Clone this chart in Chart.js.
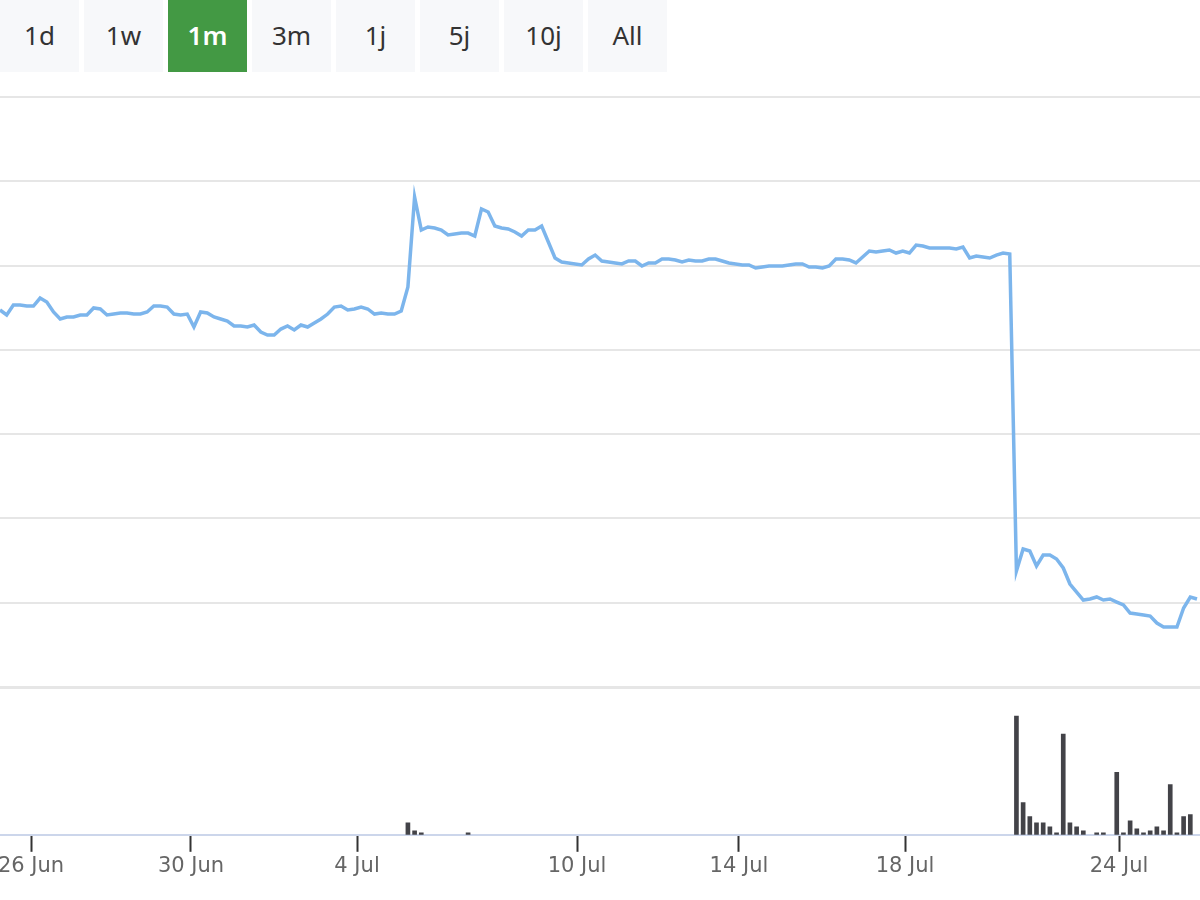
<!DOCTYPE html>
<html lang="de">
<head>
    <meta charset="UTF-8">
    <title>Kursverlauf 1m</title>
    <script src="https://cdn.jsdelivr.net/npm/chart.js"></script>
    <style>
        body { margin: 0; background: #fff; font-family: "DejaVu Sans", sans-serif; }
        #page { position: relative; width: 1200px; height: 900px; overflow: hidden; }
        #ranges { position: absolute; left: 0; top: 0; height: 72px; }
        .range { position: absolute; top: 0; width: 79px; height: 72px; line-height: 70px; text-align: center;
                 background: #f7f8fa; color: #333; font-family: "Noto Sans", sans-serif; font-size: 26px; }
        .range.active { background: #439944; color: #fff; font-weight: 600; }
        #priceChart { position: absolute; left: 0; top: 88px; }
        #volumeChart { position: absolute; left: 0; top: 690px; }
    </style>
</head>
<body>
<div id="page">
    <div id="ranges"></div>
    <canvas id="priceChart" width="1200" height="602"></canvas>
    <canvas id="volumeChart" width="1200" height="191"></canvas>
</div>

<script>
// range buttons
const rangeButtons = ["1d", "1w", "1m", "3m", "1j", "5j", "10j", "All"];
const activeRange = "1m";

// closing price per interval, ~6 intervals a day
const closePrices = [
    44.73, 44.14, 45.32, 45.32, 45.20, 45.20, 46.15, 45.68, 44.49, 43.66,
    43.90, 43.90, 44.14, 44.14, 44.97, 44.85, 44.14, 44.25, 44.37, 44.37,
    44.25, 44.25, 44.49, 45.20, 45.20, 45.08, 44.25, 44.14, 44.25, 42.71,
    44.49, 44.37, 43.90, 43.66, 43.42, 42.83, 42.83, 42.71, 42.95, 42.12,
    41.76, 41.76, 42.47, 42.83, 42.36, 42.95, 42.71, 43.19, 43.66, 44.25,
    45.08, 45.20, 44.73, 44.85, 45.08, 44.85, 44.25, 44.37, 44.25, 44.25,
    44.61, 47.46, 58.14, 54.22, 54.58, 54.46, 54.22, 53.63, 53.75, 53.86,
    53.86, 53.51, 56.71, 56.36, 54.69, 54.46, 54.34, 53.98, 53.51, 54.22,
    54.22, 54.69, 52.80, 50.90, 50.42, 50.31, 50.19, 50.07, 50.78, 51.25,
    50.54, 50.42, 50.31, 50.19, 50.54, 50.54, 49.95, 50.31, 50.31, 50.78,
    50.78, 50.66, 50.42, 50.66, 50.54, 50.54, 50.78, 50.78, 50.54, 50.31,
    50.19, 50.07, 50.07, 49.71, 49.83, 49.95, 49.95, 49.95, 50.07, 50.19,
    50.19, 49.83, 49.83, 49.71, 49.95, 50.78, 50.78, 50.66, 50.31, 51.02,
    51.73, 51.61, 51.73, 51.85, 51.49, 51.73, 51.49, 52.44, 52.32, 52.08,
    52.08, 52.08, 52.08, 51.97, 52.20, 50.90, 51.14, 51.02, 50.90, 51.25,
    51.49, 51.37, 13.76, 16.37, 16.14, 14.36, 15.66, 15.66, 15.19, 14.12,
    12.22, 11.27, 10.32, 10.44, 10.68, 10.32, 10.44, 10.08, 9.73, 8.78,
    8.66, 8.54, 8.42, 7.59, 7.12, 7.12, 7.12, 9.37, 10.68, 10.44
];

// traded volume, only intervals with trades
const volIdx = [61, 62, 63, 70, 152, 153, 154, 155, 156, 157, 158, 159, 160, 161, 162,
                164, 165, 167, 168, 169, 170, 171, 172, 173, 174, 175, 176, 177, 178];
const volAmt = [10200, 3400, 1700, 1700, 100300, 27200, 15300, 10200, 10200, 6800, 1700, 85000, 10200, 6800, 3400,
                1700, 1700, 52700, 1700, 11900, 5100, 1700, 3400, 6800, 3400, 42500, 1700, 15300, 17000];

// date ticks (position in intervals)
const tickPos = [4.64, 28.56, 53.39, 86.29, 110.51, 135.34, 167.34];
const tickLabels = ["26 Jun", "30 Jun", "4 Jul", "10 Jul", "14 Jul", "18 Jul", "24 Jul"];

const xMax = 179.45;

window.onload = function() {
    const box = document.getElementById("ranges");
    rangeButtons.forEach((r, i) => {
        const b = document.createElement("div");
        b.className = "range" + (r === activeRange ? " active" : "");
        b.style.left = (i * 84) + "px";
        b.textContent = r;
        box.appendChild(b);
    });

    new Chart(document.getElementById("priceChart"), {
        type: "line",
        data: {
            datasets: [{
                data: closePrices.map((p, i) => ({ x: i, y: p })),
                borderColor: "#7cb5ec",
                borderWidth: 3.5,
                pointRadius: 0,
                tension: 0
            }]
        },
        options: {
            responsive: false,
            animation: false,
            layout: { padding: { top: 9, bottom: 3, left: 0, right: 0 } },
            plugins: { legend: { display: false }, tooltip: { enabled: false } },
            scales: {
                x: { type: "linear", min: 0, max: xMax, display: false },
                y: {
                    min: 0, max: 70,
                    ticks: { display: false, stepSize: 10 },
                    border: { display: false },
                    grid: {
                        drawTicks: false,
                        color: "#e6e6e6",
                        lineWidth: ctx => ctx.tick && ctx.tick.value === 0 ? 3 : 2
                    }
                }
            }
        }
    });

    new Chart(document.getElementById("volumeChart"), {
        type: "bar",
        data: {
            datasets: [{
                data: volIdx.map((x, k) => ({ x: x, y: volAmt[k] })),
                backgroundColor: "#434348",
                barThickness: 4,
                borderWidth: 0
            }]
        },
        options: {
            responsive: false,
            animation: false,
            layout: { padding: { top: 10, bottom: 0, left: 0, right: 0 } },
            plugins: { legend: { display: false }, tooltip: { enabled: false } },
            scales: {
                x: {
                    type: "linear", min: 0, max: xMax, offset: false,
                    afterBuildTicks: s => { s.ticks = tickPos.map(v => ({ value: v })); },
                    afterFit: s => { s.paddingLeft = 0; s.paddingRight = 0; },
                    border: { color: "#ccd6eb", width: 2 },
                    grid: { offset: false, drawOnChartArea: false, tickLength: 17, tickColor: "#333", tickWidth: 2 },
                    ticks: {
                        autoSkip: false, maxRotation: 0, padding: 2,
                        color: "#666",
                        font: { family: "DejaVu Sans", size: 21 },
                        callback: (v, i) => tickLabels[i]
                    }
                },
                y: { display: false, min: 0, max: 113900 }
            }
        }
    });
};
</script>
</body>
</html>
